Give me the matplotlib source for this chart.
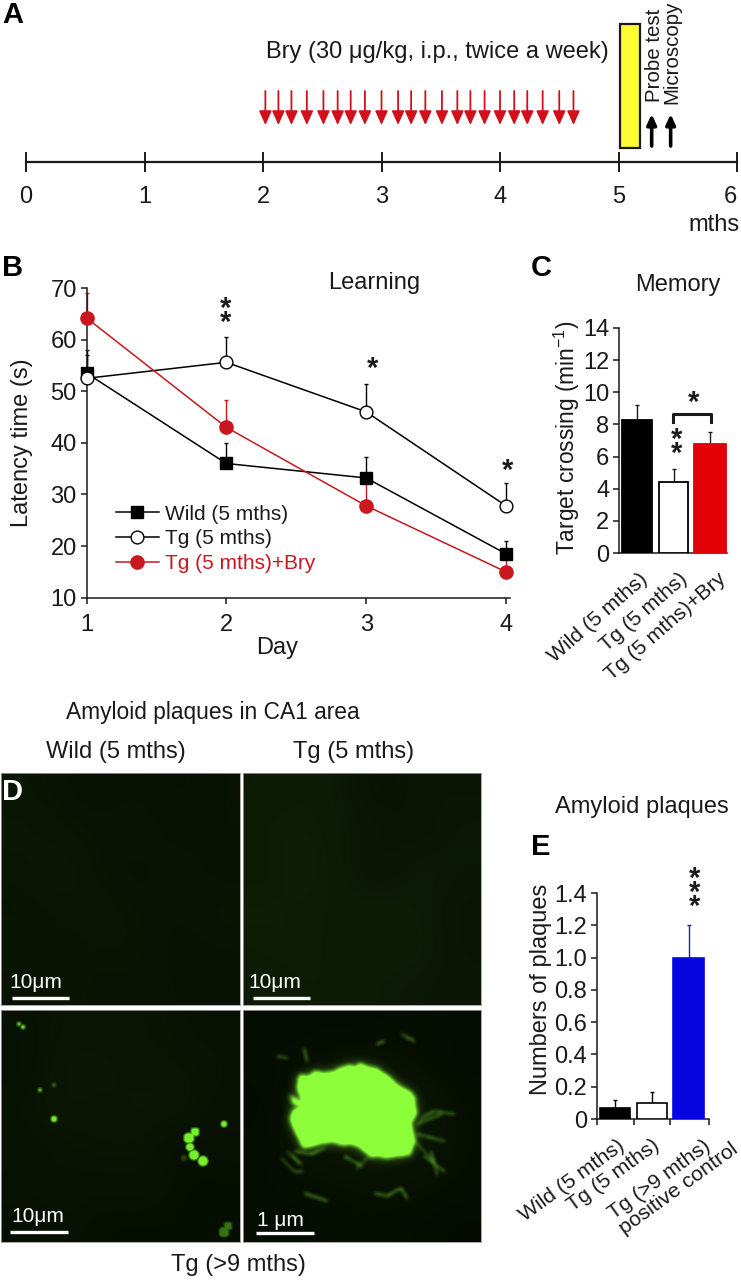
import numpy as np
import matplotlib
matplotlib.use('Agg')
import matplotlib.pyplot as plt
from matplotlib.colors import LinearSegmentedColormap, to_rgb
from matplotlib.patches import Rectangle
from matplotlib.path import Path

plt.rcParams['font.family'] = ['Liberation Sans', 'DejaVu Sans']
plt.rcParams['mathtext.fontset'] = 'custom'
plt.rcParams['mathtext.rm'] = 'Liberation Sans'
plt.rcParams['mathtext.default'] = 'rm'

W, H = 741, 1280
INK = '#1a1a1a'
RED = '#c8171e'
FS = 17

# panel A
month_ticks = [0, 1, 2, 3, 4, 5, 6]
dose_months = [2.02, 2.13, 2.24, 2.37, 2.51, 2.63, 2.74, 2.86, 3.0, 3.14, 3.25,
               3.37, 3.51, 3.64, 3.75, 3.87, 4.0, 4.12, 4.23, 4.36, 4.5, 4.62]
test_months = [5.28, 5.44]

# panel B
days = [1, 2, 3, 4]
wild = [53.5, 36, 33.2, 18.5]
wild_top = [58, 40, 37.2, 21]
tg = [52.5, 55.6, 46, 27.8]
tg_top = [57, 60.5, 51.4, 32.2]
bry = [64.2, 43, 27.8, 15]
bry_top = [69, 48.3, 33, 18.5]

# panel C
memory_labels = ['Wild (5 mths)', 'Tg (5 mths)', 'Tg (5 mths)+Bry']
memory = [8.3, 4.4, 6.8]
memory_top = [9.2, 5.2, 7.5]

# panel E
plaque_labels = ['Wild (5 mths)', 'Tg (5 mths)', 'Tg (>9 mths)\npositive control']
plaques = [0.07, 0.1, 1.0]
plaques_top = [0.12, 0.17, 1.2]

# panel D, coarse background brightness of each micrograph
bg_wild = [[.35, .30, .25, .30, .22, .30], [.40, .35, .30, .35, .25, .30],
           [.35, .45, .30, .25, .35, .25], [.30, .35, .40, .30, .30, .35],
           [.35, .30, .35, .35, .25, .30], [.30, .35, .30, .30, .30, .25]]
bg_tg = [[.45, .50, .45, .25, .40, .35], [.50, .55, .45, .40, .30, .45],
         [.45, .60, .45, .30, .50, .40], [.55, .50, .50, .50, .45, .35],
         [.50, .55, .45, .50, .50, .35], [.45, .50, .50, .45, .40, .40]]
bg_old = [[.25, .35, .35, .35, .30, .25], [.20, .40, .40, .35, .35, .30],
          [.30, .40, .35, .40, .40, .25], [.25, .30, .35, .35, .20, .25],
          [.25, .30, .25, .30, .20, .20], [.20, .25, .20, .20, .20, .20]]
bg_plaque = [[.15, .15, .15, .15, .20, .15], [.15, .20, .30, .30, .20, .15],
             [.10, .30, .40, .40, .35, .20], [.15, .30, .40, .40, .30, .20],
             [.15, .20, .20, .25, .25, .20], [.15, .15, .20, .20, .15, .12]]

# bright deposits in the lower left micrograph
spots_x = [194, 188, 189, 193, 202, 223, 53, 39, 53, 18, 22, 223, 227, 183]
spots_y = [122, 128, 137, 145, 151, 114, 109, 80, 75, 14, 17, 222, 216, 148]
spots_r = [4.5, 5.5, 4, 5, 5, 3, 3, 2.5, 2.5, 2.2, 2.2, 5.5, 4.5, 3]
spots_a = [1, 1, 1, 1, 1, .95, .9, .6, .3, .7, .8, .4, .4, .2]

# outline and fibres of the big plaque, pixels inside its micrograph
plaque_x = [47, 52, 60, 54, 56, 66, 72, 80, 90, 97, 107, 112, 117, 125, 133, 140, 147, 153, 160, 168, 172, 172,
            174, 168, 170, 172, 167, 155, 143, 135, 128, 122, 117, 108, 100, 90, 80, 70, 60, 55, 50, 47, 50, 60, 50]
plaque_y = [85, 88, 93, 78, 65, 66, 61, 63, 62, 58, 55, 57, 53, 57, 58, 63, 67, 74, 78, 82, 88, 95,
            103, 113, 122, 130, 145, 146, 148, 146, 147, 142, 137, 134, 135, 132, 133, 136, 138, 127, 117, 108, 100, 96, 94]
fibres = [[(37, 147), (50, 160), (58, 160)], [(43, 140), (57, 153)], [(60, 182), (83, 190)],
          [(130, 182), (143, 185), (157, 177), (163, 187)], [(173, 113), (197, 103)],
          [(173, 123), (200, 130)], [(177, 107), (190, 100), (210, 103)], [(133, 33), (140, 30)],
          [(157, 23), (170, 30)], [(60, 37), (63, 50)], [(33, 45), (43, 47)], [(113, 157), (123, 147)],
          [(50, 140), (67, 143), (80, 137)], [(187, 140), (193, 163)], [(170, 130), (190, 150)],
          [(180, 145), (200, 160)], [(100, 145), (118, 155)]]
holes_x = [105, 107, 62, 75]
holes_y = [70, 78, 95, 95]


def axes_px(left, top, right, bottom):
    return fig.add_axes([left / W, 1 - bottom / H, (right - left) / W, (bottom - top) / H])


def style_chart(ax, ticks, labels=None):
    for side in ['top', 'right']:
        ax.spines[side].set_visible(False)
    for side in ['left', 'bottom']:
        ax.spines[side].set_linewidth(1.1)
        ax.spines[side].set_color(INK)
    ax.set_yticks(ticks)
    if labels:
        ax.set_yticklabels(labels)
    ax.tick_params(labelsize=FS, colors=INK, width=1.1, length=4, pad=3)


def bars_with_errors(ax, xs, vals, tops, widths, faces, edges, err_colors, lw):
    ax.bar(xs, vals, width=widths, color=faces, edgecolor=edges, lw=lw, zorder=3)
    for x, v, t, c in zip(xs, vals, tops, err_colors):
        ax.errorbar(x, v, yerr=[[0], [t - v]], fmt='none', ecolor=c, elinewidth=1,
                    capsize=1.2, capthick=1, zorder=2)


def tilted_labels(ax, xs, labels, dx, dy, angle):
    ax.set_xticklabels([])
    for x, lab, ox, oy in zip(xs, labels, dx, dy):
        ax.annotate(lab, (x, 0), xytext=(ox, oy), textcoords='offset points', rotation=angle,
                    ha='right', va='top', rotation_mode='anchor', fontsize=15.3, color=INK,
                    multialignment='left', linespacing=1.0, annotation_clip=False)


def blur(img, size, passes=2):
    kernel = np.ones(size) / size
    for _ in range(passes):
        img = np.apply_along_axis(np.convolve, 0, img, kernel, mode='same')
        img = np.apply_along_axis(np.convolve, 1, img, kernel, mode='same')
    return img


def disc_mask(xx, yy, x, y, r):
    return ((xx - x) ** 2 + (yy - y) ** 2 <= r ** 2).astype(float)


def overlay(ax, intensity, color, w, h):
    rgba = np.zeros(intensity.shape + (4,))
    rgba[..., :3] = to_rgb(color)
    rgba[..., 3] = np.clip(intensity, 0, 1)
    ax.imshow(rgba, extent=[0, w, h, 0], aspect='auto', interpolation='bilinear')


fig = plt.figure(figsize=(W / 100, H / 100), dpi=100, facecolor='white')

# page layer, in pixels, for the headings and stars
page = fig.add_axes([0, 0, 1, 1], zorder=10)
page.set_xlim(0, W)
page.set_ylim(H, 0)
page.axis('off')


def label(x, y, s, **kw):
    kw.setdefault('fontsize', FS)
    kw.setdefault('color', INK)
    page.text(x, y, s, ha=kw.pop('ha', 'center'), va=kw.pop('va', 'center'), **kw)


def stars(x, y, n=1):
    # y is the centre of the stack, the asterisk sits high in its line
    page.text(x, y + 6, '\n'.join('*' * n), ha='center', va='center', fontsize=21,
              fontweight='bold', color=INK, linespacing=0.37)


for s, x, y, c in [('A', 13, 15, 'black'), ('B', 13, 268, 'black'), ('C', 541, 268, 'black'),
                   ('D', 13, 792, 'white'), ('E', 541, 847, 'black')]:
    label(x, y, s, fontsize=21, fontweight='bold', color=c)

# A: timeline, y data in page pixels
ax_a = axes_px(26, 0, 737, 162)
ax_a.set_xlim(0, 6)
ax_a.set_ylim(162, 0)
ax_a.patch.set_visible(False)
for side in ['top', 'left', 'right']:
    ax_a.spines[side].set_visible(False)
ax_a.spines['bottom'].set_linewidth(1.6)
ax_a.spines['bottom'].set_color(INK)
ax_a.set_yticks([])
ax_a.set_xticks(month_ticks)
ax_a.tick_params(axis='x', direction='inout', length=14, width=1.4, color=INK, labelsize=FS,
                 labelcolor=INK, pad=10)
ax_a.get_xticklabels()[-1].set_ha('right')
for m in dose_months:
    ax_a.annotate('', xy=(m, 125), xytext=(m, 91),
                  arrowprops=dict(arrowstyle='-|>,head_width=0.27,head_length=0.6', color='#d0101a',
                                  lw=1.3, mutation_scale=14, shrinkA=0, shrinkB=0))
for m in test_months:
    ax_a.annotate('', xy=(m, 114), xytext=(m, 146),
                  arrowprops=dict(arrowstyle='-|>,head_width=0.25,head_length=0.55', color='black',
                                  lw=2.6, mutation_scale=11, shrinkA=0, shrinkB=0))
ax_a.add_patch(Rectangle((5.01, 24), 0.17, 124, facecolor='#ffff33', edgecolor=INK, lw=1.6))
label(437, 52, 'Bry (30 μg/kg, i.p., twice a week)')
label(654, 102, 'Probe test', rotation=90, va='bottom', fontsize=14.8)
label(672, 104, 'Microscopy', rotation=90, va='bottom', fontsize=14.8)
label(714, 225, 'mths')

# B: learning curves
ax_b = axes_px(86.5, 288, 510, 597.7)
ax_b.set_xlim(1, 4 + 4 / 140)
ax_b.set_ylim(10, 70)
ax_b.patch.set_visible(False)
style_chart(ax_b, [10, 20, 30, 40, 50, 60, 70])
ax_b.set_xticks(days)
ax_b.tick_params(axis='x', pad=8)
series = [(wild, wild_top, 's', 'black', 'black', 'Wild (5 mths)', 9.2),
          (tg, tg_top, 'o', 'black', 'white', 'Tg (5 mths)', 9.2),
          (bry, bry_top, 'o', RED, RED, 'Tg (5 mths)+Bry', 9.5)]
handles = []
for vals, tops, mk, col, face, name, ms in series:
    up = np.array(tops) - np.array(vals)
    ax_b.errorbar(days, vals, yerr=[np.zeros(4), up], fmt='none', ecolor=col, elinewidth=1,
                  capsize=1.5, capthick=1, clip_on=False, zorder=2)
    line, = ax_b.plot(days, vals, color=col, lw=1.1, marker=mk, ms=ms, mfc=face, mec=col, mew=1,
                      clip_on=False, zorder=3, label=name)
    handles.append(line)
ax_b.legend(handles=handles, loc='lower left', bbox_to_anchor=(0.07, 0.08), frameon=False,
            fontsize=15, handlelength=2.05, handletextpad=0.3, labelspacing=0.27, borderpad=0,
            borderaxespad=0, labelcolor=[INK, INK, RED])
ax_b.set_xlabel('Day', fontsize=FS, color=INK)
ax_b.xaxis.set_label_coords(0.45, -0.127)
ax_b.set_ylabel('Latency time (s)', fontsize=FS, color=INK)
ax_b.yaxis.set_label_coords(-0.126, 0.5)
label(374, 283, 'Learning')
stars(226, 310, 2)
stars(373, 363)
stars(508, 465)

# C: memory bars
ax_c = axes_px(619, 328, 727, 553)
ax_c.set_xlim(-0.5, 2.47)
ax_c.set_ylim(0, 14)
ax_c.patch.set_visible(False)
style_chart(ax_c, [0, 2, 4, 6, 8, 10, 12, 14])
pos_c = [0, 1, 2]
ax_c.set_xticks(pos_c)
ax_c.tick_params(axis='x', length=0)
bars_with_errors(ax_c, pos_c, memory, memory_top, [0.83, 0.8, 0.87], ['black', 'white', '#e00006'],
                 ['black', 'black', '#e00006'], [INK, INK, INK], 1.3)
tilted_labels(ax_c, pos_c, memory_labels, [1, 4, 5], [-12, -12, -12], 41)
ax_c.set_ylabel('Target crossing (min$^{-1}$)', fontsize=16.4, color=INK)
ax_c.yaxis.set_label_coords(-0.34, 0.51)
label(678, 285, 'Memory')
page.plot([673, 673, 711, 711], [422, 414, 414, 422], color=INK, lw=2.2, solid_joinstyle='round')
stars(694, 397)
stars(677, 441, 2)

# D: micrographs
green = LinearSegmentedColormap.from_list('micro', ['#020601', '#1a3209'])
panels = [(1, 773, 240, 1005, bg_wild), (243, 773, 481, 1005, bg_tg),
          (1, 1010, 240, 1242, bg_old), (243, 1010, 481, 1242, bg_plaque)]
micro = []
for left, top, right, bottom, grid in panels:
    ax = axes_px(left, top, right, bottom)
    ax.imshow(grid, cmap=green, vmin=0, vmax=1, interpolation='bicubic', aspect='auto',
              extent=[0, right - left, bottom - top, 0])
    ax.set_xticks([])
    ax.set_yticks([])
    for sp in ax.spines.values():
        sp.set_color('#9a9a9a')
        sp.set_linewidth(0.6)
    micro.append(ax)

# deposits
pw, ph = 239, 232
xx, yy = np.meshgrid(np.arange(pw) + 0.5, np.arange(ph) + 0.5)
ax = micro[2]
glow = np.zeros((ph, pw))
for x, y, r, a in zip(spots_x, spots_y, spots_r, spots_a):
    glow = np.maximum(glow, a * blur(disc_mask(xx, yy, x, y, r), 3, 1) * 1.1)
overlay(ax, glow, '#76f02c', pw, ph)

# big plaque
pw, ph = 238, 232
xx, yy = np.meshgrid(np.arange(pw) + 0.5, np.arange(ph) + 0.5)
ax = micro[3]
outline = Path(np.c_[plaque_x, plaque_y])
mask = outline.contains_points(np.c_[xx.ravel(), yy.ravel()]).reshape(ph, pw).astype(float)
for x, y in zip(holes_x, holes_y):
    mask = mask - 0.6 * disc_mask(xx, yy, x, y, 3)
fib_mask = np.zeros((ph, pw))
for fib in fibres:
    for (x0, y0), (x1, y1) in zip(fib[:-1], fib[1:]):
        for t in np.linspace(0, 1, 40):
            fib_mask[int(y0 + (y1 - y0) * t), int(x0 + (x1 - x0) * t)] = 1
glow = 1.05 * blur(mask, 5) + 0.55 * blur(mask, 13) + 0.9 * blur(fib_mask, 4)
overlay(ax, glow, '#8cff3a', pw, ph)

for x0, x1, y, tx, ty, s in [(12, 69, 998, 36, 983, '10μm'), (253, 310, 998, 275, 983, '10μm'),
                             (10, 68, 1232, 38, 1216, '10μm'), (256, 314, 1233, 280, 1220, '1 μm')]:
    page.plot([x0, x1], [y, y], color='white', lw=2.4, solid_capstyle='butt')
    label(tx, ty, s, color='white', fontsize=15)
label(213, 712, 'Amyloid plaques in CA1 area', fontsize=16.4)
label(116, 752, 'Wild (5 mths)')
label(354, 752, 'Tg (5 mths)')
label(238, 1265, 'Tg (>9 mths)')

# E: plaque counts
ax_e = axes_px(597, 893, 709, 1119)
ax_e.set_xlim(-0.5, 2.56)
ax_e.set_ylim(0, 1.4)
ax_e.patch.set_visible(False)
style_chart(ax_e, [0, 0.2, 0.4, 0.6, 0.8, 1.0, 1.2, 1.4], ['0', '0.2', '0.4', '0.6', '0.8', '1.0', '1.2', '1.4'])
pos_e = [0, 1, 2]
bars_with_errors(ax_e, pos_e, plaques, plaques_top, [0.82, 0.82, 0.86], ['black', 'white', '#0505e0'],
                 ['black', 'black', '#0505e0'], ['black', 'black', '#2222a8'], 1.2)
ax_e.set_xticks([-0.5, 0.5, 1.5, 2.56])
ax_e.tick_params(axis='x', length=4, labelbottom=False)
tilted_labels(ax_e, pos_e, plaque_labels, [1, 0, 22], [-12, -12, -4], 36)
ax_e.set_ylabel('Numbers of plaques', fontsize=FS, color=INK)
ax_e.yaxis.set_label_coords(-0.40, 0.575)
label(642, 807, 'Amyloid plaques')
stars(695, 887, 3)

fig.savefig('out.png', dpi=100)
